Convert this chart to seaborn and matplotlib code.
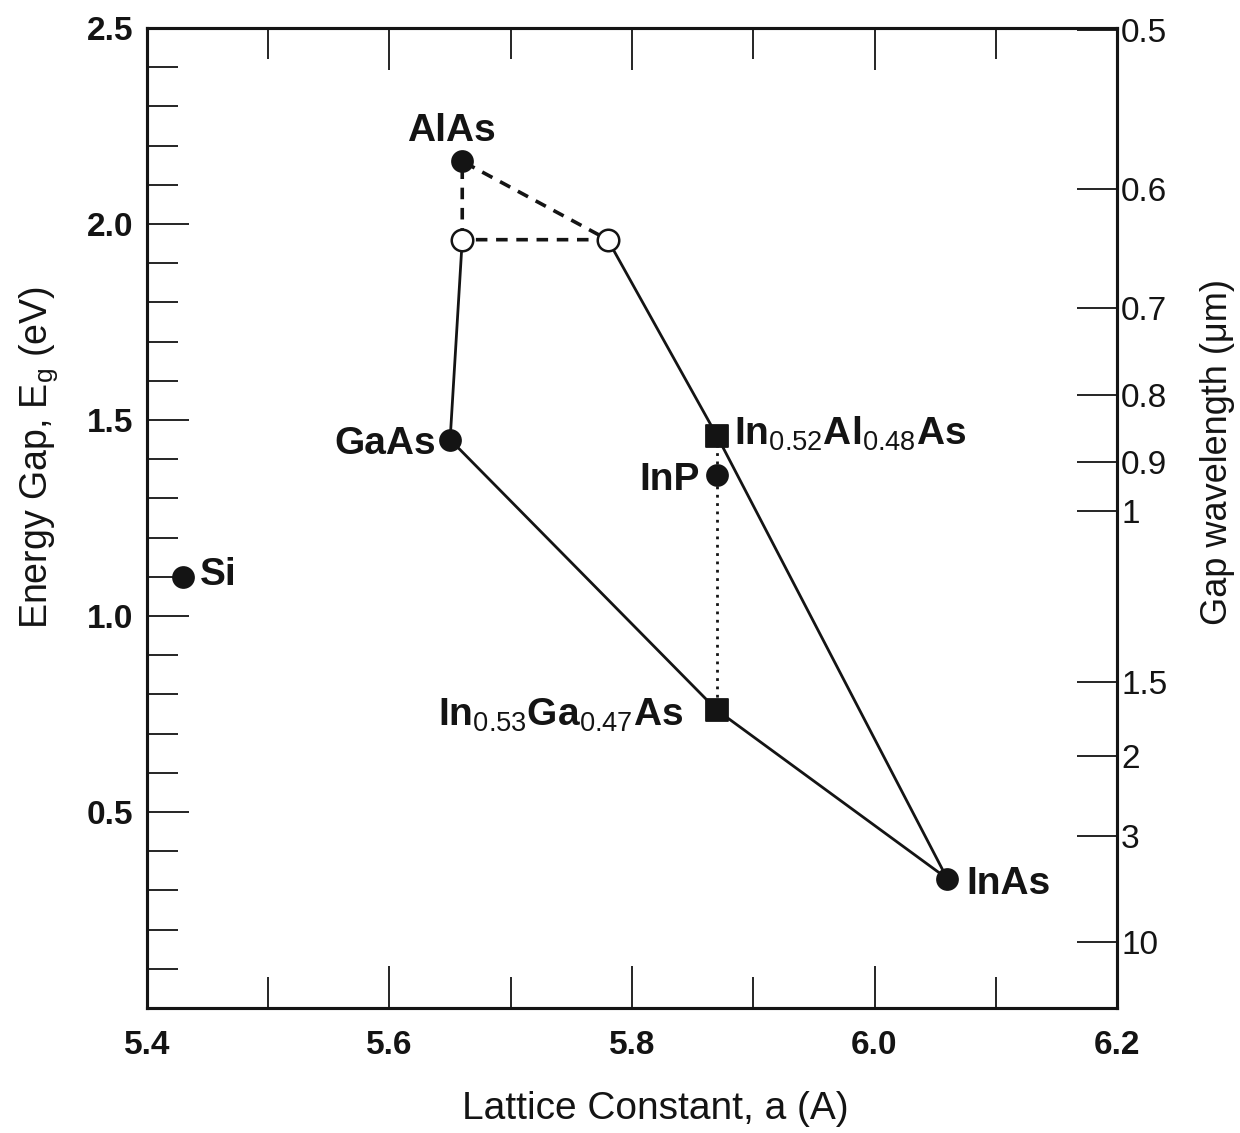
import numpy as np
import pandas as pd
import seaborn as sns
import matplotlib
matplotlib.use("Agg")
import matplotlib.pyplot as plt
from matplotlib.ticker import FixedLocator, MultipleLocator, NullFormatter

# binary compounds (lattice constant in A, gap in eV)
binary_names = ["Si", "AlAs", "GaAs", "InP", "InAs"]
binary_a = [5.43, 5.66, 5.65, 5.87, 6.06]
binary_eg = [1.10, 2.16, 1.45, 1.36, 0.33]

# lattice matched ternaries
alloy_names = ["In$_{0.52}$Al$_{0.48}$As", "In$_{0.53}$Ga$_{0.47}$As"]
alloy_a = [5.87, 5.87]
alloy_eg = [1.46, 0.76]

# direct/indirect crossover points (open circles)
cross_a = [5.66, 5.78]
cross_eg = [1.96, 1.96]

# right axis: gap wavelength ticks (um) and where they sit on the eV scale
wl_labels = ["0.5", "0.6", "0.7", "0.8", "0.9", "1", "1.5", "2", "3", "10"]
wl_eg = [2.495, 2.09, 1.785, 1.564, 1.392, 1.267, 0.831, 0.644, 0.438, 0.169]

sns.set_theme(style="ticks")
plt.rcParams["font.family"] = ["Liberation Sans", "DejaVu Sans"]
plt.rcParams["mathtext.fontset"] = "custom"
plt.rcParams["mathtext.rm"] = "Liberation Sans"
plt.rcParams["mathtext.it"] = "Liberation Sans:italic"
plt.rcParams["mathtext.bf"] = "Liberation Sans:bold"

pts = dict(zip(binary_names, zip(binary_a, binary_eg)))
pts.update(dict(zip(alloy_names, zip(alloy_a, alloy_eg))))
pts["X1"] = (cross_a[0], cross_eg[0])
pts["X2"] = (cross_a[1], cross_eg[1])


def path_frame(keys):
    return pd.DataFrame({
        "a": [pts[k][0] for k in keys],
        "eg": [pts[k][1] for k in keys],
    })


fig = plt.figure(figsize=(12.4, 11.33), dpi=100)
ax = fig.add_axes([147 / 1240, 1 - 1008 / 1133, 970 / 1240, 980 / 1133])

ink = "#141414"
lw = 2.0
solid_paths = [["GaAs", "X1"], ["X2", alloy_names[0], "InAs"], ["GaAs", alloy_names[1], "InAs"]]
for p in solid_paths:
    sns.lineplot(data=path_frame(p), x="a", y="eg", sort=False, estimator=None,
                 color=ink, lw=lw, ax=ax, zorder=2)
sns.lineplot(data=path_frame(["X1", "AlAs", "X2", "X1"]), x="a", y="eg", sort=False,
             estimator=None, color=ink, lw=lw + 0.6, ax=ax, zorder=2,
             linestyle=(0, (3.2, 2.4)))
sns.lineplot(data=path_frame([alloy_names[0], alloy_names[1]]), x="a", y="eg", sort=False,
             estimator=None, color=ink, lw=lw, ax=ax, zorder=2, linestyle=(0, (1, 2)))

sns.scatterplot(x=binary_a, y=binary_eg, marker="o", s=230, color=ink,
                edgecolor=ink, ax=ax, zorder=4)
sns.scatterplot(x=alloy_a, y=alloy_eg, marker="s", s=260, color=ink,
                edgecolor=ink, ax=ax, zorder=4)
sns.scatterplot(x=cross_a, y=cross_eg, marker="o", s=240, color="white",
                edgecolor=ink, linewidth=1.8, ax=ax, zorder=4)

# labels next to the points
lab = dict(fontsize=28, fontweight="bold", color=ink, textcoords="offset points")
ax.annotate("Si", pts["Si"], xytext=(12, 1), ha="left", va="center", **lab)
ax.annotate("AlAs", pts["AlAs"], xytext=(-8, 9), ha="center", va="bottom", **lab)
ax.annotate("GaAs", pts["GaAs"], xytext=(-10, -3), ha="right", va="center", **lab)
ax.annotate("InP", pts["InP"], xytext=(-12, -4), ha="right", va="center", **lab)
ax.annotate("InAs", pts["InAs"], xytext=(14, -4), ha="left", va="center", **lab)
ax.annotate(alloy_names[0], pts[alloy_names[0]], xytext=(12, 1), ha="left", va="center", **lab)
ax.annotate(alloy_names[1], pts[alloy_names[1]], xytext=(-24, -4), ha="right", va="center", **lab)

ax.set_xlim(5.4, 6.2)
ax.set_ylim(0.0, 2.5)

# left / bottom / top ticks, all pointing inward
ax.xaxis.set_major_locator(FixedLocator([5.4, 5.6, 5.8, 6.0, 6.2]))
ax.xaxis.set_minor_locator(FixedLocator([5.5, 5.7, 5.9, 6.1]))
ax.yaxis.set_major_locator(FixedLocator([0.5, 1.0, 1.5, 2.0, 2.5]))
ax.yaxis.set_minor_locator(MultipleLocator(0.1))
ax.set_xticklabels(["5.4", "5.6", "5.8", "6.0", "6.2"])
ax.set_yticklabels(["0.5", "1.0", "1.5", "2.0", "2.5"])
ax.tick_params(axis="both", which="major", direction="in", length=30, width=1.3,
               labelsize=24, color=ink, labelcolor=ink)
ax.tick_params(axis="both", which="minor", direction="in", length=22, width=1.3, color=ink)
ax.tick_params(axis="x", which="both", top=True, pad=16)
ax.tick_params(axis="y", which="both", right=False, pad=10)
for t in ax.get_xticklabels() + ax.get_yticklabels():
    t.set_fontweight("bold")

for s in ax.spines.values():
    s.set_linewidth(2.2)
    s.set_color(ink)

ax.set_xlabel("Lattice Constant, a (A)", fontsize=28, color=ink)
ax.xaxis.set_label_coords(0.524, -0.085)
ax.set_ylabel("Energy Gap, E$_\\mathrm{g}$ (eV)", fontsize=27, color=ink)
ax.yaxis.set_label_coords(-0.09, 0.562)

# right axis: wavelength
ax2 = ax.twinx()
ax2.set_ylim(ax.get_ylim())
ax2.yaxis.set_major_locator(FixedLocator(wl_eg))
ax2.yaxis.set_minor_formatter(NullFormatter())
ax2.set_yticklabels(wl_labels)
ax2.tick_params(axis="y", which="major", direction="in", length=29, width=1.3, pad=3,
                labelsize=24, color=ink, labelcolor=ink)
ax2.set_ylabel("Gap wavelength (\u03bcm)", fontsize=26, color=ink)
ax2.yaxis.set_label_coords(1.086, 0.567)
for s in ax2.spines.values():
    s.set_linewidth(2.2)
    s.set_color(ink)

fig.savefig("out.png", dpi=100, facecolor="white")
